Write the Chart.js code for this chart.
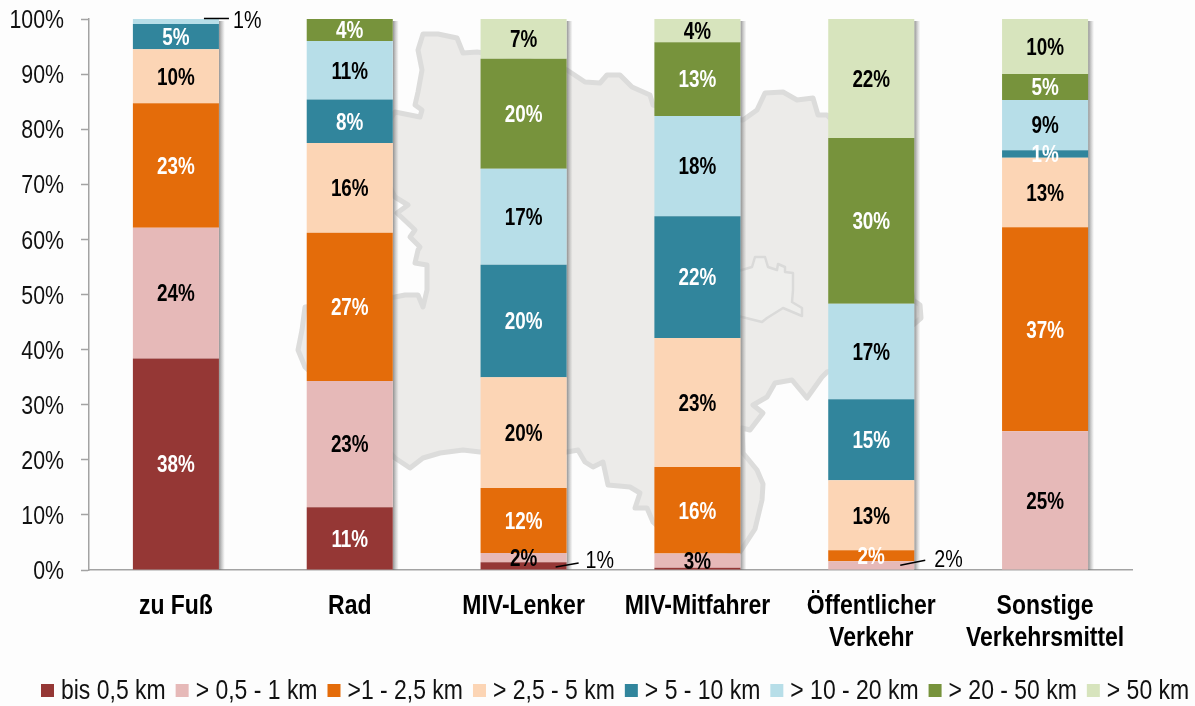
<!DOCTYPE html>
<html lang="de">
<head>
    <meta charset="UTF-8">
    <title>Wegelängen nach Verkehrsmittel</title>
    <script src="https://cdn.jsdelivr.net/npm/chart.js"></script>
    <style>
        html, body { margin: 0; padding: 0; background: #fdfdfd; }
        canvas { display: block; }
    </style>
</head>
<body>
    <canvas id="wegeChart" width="1195" height="706"></canvas>

    <script>
        // Kategorien und Werte
        const categories = ['zu Fuß', 'Rad', 'MIV-Lenker', 'MIV-Mitfahrer', ['Öffentlicher', 'Verkehr'], ['Sonstige', 'Verkehrsmittel']];
        const seriesNames = ['bis 0,5 km', '> 0,5 - 1 km', '>1 - 2,5 km', '> 2,5 - 5 km', '> 5 - 10 km', '> 10 - 20 km', '> 20 - 50 km', '> 50 km'];
        const bis05 = [38.4, 11.4, 1.4, 0.4, 0, 0];
        const bis1 = [23.7, 22.9, 1.7, 2.6, 1.6, 25.2];
        const bis25 = [22.6, 26.9, 11.8, 15.7, 2, 37];
        const bis5 = [9.8, 16.3, 20.1, 23.4, 12.7, 12.6];
        const bis10 = [4.6, 7.9, 20.4, 22.1, 14.7, 1.4];
        const bis20 = [0.9, 10.6, 17.4, 18.2, 17.3, 9.1];
        const bis50 = [0, 4, 20, 13.4, 30.1, 4.7];
        const ueber50 = [0, 0, 7.2, 4.2, 21.6, 10];
        const seriesValues = [bis05, bis1, bis25, bis5, bis10, bis20, bis50, ueber50];

        const seriesColors = ['#953735', '#e6b9b8', '#e46c0a', '#fcd5b5', '#31859c', '#b7dee8', '#77933c', '#d7e4bd'];
        const labelColors = ['#fff', '#000', '#fff', '#000', '#fff', '#000', '#fff', '#000'];

        // Beschriftungen mit Führungslinie, Versatz relativ zur rechten Balkenkante
        const callouts = [
            { series: 5, cat: 0, x0: -15, y0: -3, x1: 10, y1: -3, tx: 14, ty: -2 },
            { series: 0, cat: 2, x0: -11, y0: 1, x1: 12, y1: -3, tx: 19, ty: -7 },
            { series: 1, cat: 4, x0: -14, y0: 0, x1: 11, y1: -5, tx: 20, ty: -7 }
        ];

        // Umriss im Hintergrund (nur Dekoration, Pixel der Seite)
        const mapOutline = [[423,34],[438,34],[457,38],[463,53],[477,52],[520,58],[567,70],[585,82],[600,83],[607,75],[620,75],[632,87],[650,95],[653,105],[700,118],[743,120],[757,110],[765,93],[783,92],[797,100],[813,98],[818,115],[827,115],[870,160],[905,250],[913,300],[920,305],[921,318],[913,325],[870,360],[827,372],[822,377],[807,398],[792,380],[775,383],[767,397],[753,405],[763,413],[750,430],[742,428],[743,453],[757,470],[763,484],[762,500],[755,529],[740,552],[700,565],[653,522],[647,508],[635,508],[640,493],[630,487],[608,485],[603,462],[593,467],[585,462],[578,450],[567,452],[480,452],[463,450],[440,453],[423,458],[410,468],[395,458],[340,400],[305,367],[298,350],[302,330],[305,307],[395,297],[405,295],[418,295],[423,307],[427,290],[427,265],[415,263],[418,250],[420,247],[410,237],[415,230],[397,213],[408,205],[395,197],[370,150],[395,112],[420,117],[422,110],[415,105],[418,92],[422,70],[418,50]];
        const wienOutline = [[735,272],[752,267],[755,257],[765,257],[768,267],[777,270],[778,264],[785,267],[785,272],[793,273],[793,290],[792,302],[802,308],[802,316],[783,308],[767,318],[762,322],[742,317],[735,315]];

        const sans = "'Liberation Sans', Arial, sans-serif";
        const squeeze = 0.82; // keine Narrow-Schrift installiert, also Text horizontal stauchen
        const textDrop = 2; // Text sitzt im Original etwas tiefer

        function tracePath(ctx, points) {
            ctx.beginPath();
            points.forEach((p, i) => i ? ctx.lineTo(p[0], p[1]) : ctx.moveTo(p[0], p[1]));
            ctx.closePath();
        }

        const narrowText = {
            id: 'narrowText',
            beforeInit(chart) {
                const ctx = chart.ctx;
                const fillText = ctx.fillText;
                ctx.fillText = function (text, x, y) {
                    this.save();
                    this.translate(x, y + textDrop);
                    this.scale(squeeze, 1);
                    fillText.call(this, text, 0, 0);
                    this.restore();
                };
            }
        };

        const backgroundMap = {
            id: 'backgroundMap',
            beforeDraw(chart) {
                const ctx = chart.ctx;
                ctx.save();
                ctx.lineJoin = 'round';
                tracePath(ctx, mapOutline);
                ctx.fillStyle = '#ecebe9';
                ctx.fill();
                ctx.strokeStyle = '#dcdcdb';
                ctx.lineWidth = 5;
                ctx.stroke();
                tracePath(ctx, wienOutline);
                ctx.fillStyle = '#eeeeec';
                ctx.fill();
                ctx.strokeStyle = '#dadad9';
                ctx.lineWidth = 2.5;
                ctx.stroke();
                ctx.restore();
            }
        };

        // Schatten rechts neben jedem Balken
        const barShadow = {
            id: 'barShadow',
            beforeDatasetsDraw(chart) {
                const ctx = chart.ctx;
                const top = chart.scales.y.getPixelForValue(100);
                const bottom = chart.scales.y.getPixelForValue(0);
                chart.getDatasetMeta(0).data.forEach(bar => {
                    const right = bar.x + bar.width / 2;
                    const grad = ctx.createLinearGradient(right, 0, right + 6, 0);
                    grad.addColorStop(0, 'rgba(110,110,110,0.75)');
                    grad.addColorStop(1, 'rgba(150,150,150,0)');
                    ctx.fillStyle = grad;
                    ctx.fillRect(right, top + 2, 6, bottom - top - 2);
                });
            }
        };

        const segmentLabels = {
            id: 'segmentLabels',
            afterDatasetsDraw(chart) {
                const ctx = chart.ctx;
                ctx.save();
                ctx.textBaseline = 'middle';
                ctx.textAlign = 'center';
                ctx.font = 'bold 23px ' + sans;
                seriesValues.forEach((values, s) => {
                    const bars = chart.getDatasetMeta(s).data;
                    values.forEach((v, c) => {
                        const text = Math.round(v);
                        if (!text || callouts.some(o => o.series === s && o.cat === c)) return;
                        ctx.fillStyle = labelColors[s];
                        ctx.fillText(text + '%', bars[c].x, (bars[c].y + bars[c].base) / 2);
                    });
                });

                ctx.textAlign = 'left';
                ctx.font = '24px ' + sans;
                ctx.fillStyle = '#000';
                ctx.strokeStyle = '#000';
                ctx.lineWidth = 1.5;
                callouts.forEach(o => {
                    const bar = chart.getDatasetMeta(o.series).data[o.cat];
                    const right = bar.x + bar.width / 2;
                    const mid = (bar.y + bar.base) / 2;
                    ctx.beginPath();
                    ctx.moveTo(right + o.x0, mid + o.y0);
                    ctx.lineTo(right + o.x1, mid + o.y1);
                    ctx.stroke();
                    ctx.fillText(Math.round(seriesValues[o.series][o.cat]) + '%', right + o.tx, mid + o.ty);
                });
                ctx.restore();
            }
        };

        // Legende selbst gezeichnet, der Abstand Box-Text ist im Original enger als beim Chart.js-Standard
        const bottomLegend = {
            id: 'bottomLegend',
            afterDraw(chart) {
                const ctx = chart.ctx;
                let x = 41;
                ctx.save();
                ctx.font = '28px ' + sans;
                ctx.textBaseline = 'middle';
                ctx.textAlign = 'left';
                seriesNames.forEach((name, i) => {
                    ctx.fillStyle = seriesColors[i];
                    ctx.fillRect(x, 684, 13, 13);
                    ctx.fillStyle = '#111';
                    ctx.fillText(name, x + 20, 689);
                    x += 20 + ctx.measureText(name).width * squeeze + 10;
                });
                ctx.restore();
            }
        };

        new Chart(document.getElementById('wegeChart').getContext('2d'), {
            type: 'bar',
            data: {
                labels: categories,
                datasets: seriesNames.map((name, i) => ({
                    label: name,
                    data: seriesValues[i],
                    backgroundColor: seriesColors[i],
                    borderWidth: 0,
                    categoryPercentage: 1,
                    barPercentage: 0.495
                }))
            },
            options: {
                responsive: false,
                animation: false,
                layout: { padding: { top: 19, right: 63, bottom: 0, left: 0 } },
                plugins: { legend: { display: false }, tooltip: { enabled: false } },
                scales: {
                    x: {
                        stacked: true,
                        afterFit(scale) {
                            scale.height = 136;
                            scale.paddingLeft = 0;
                            scale.paddingRight = 0;
                        },
                        border: { color: '#a3a3a3', width: 1.5 },
                        grid: { drawOnChartArea: false, drawTicks: false },
                        ticks: {
                            autoSkip: false,
                            maxRotation: 0,
                            padding: 18,
                            color: '#000',
                            font: { family: sans, size: 28, weight: 'bold', lineHeight: 1.14 }
                        }
                    },
                    y: {
                        stacked: true,
                        min: 0,
                        max: 100,
                        afterFit(scale) {
                            scale.width = 89;
                            scale.paddingTop = 0;
                            scale.paddingBottom = 0;
                        },
                        border: { color: '#a3a3a3', width: 1.5 },
                        grid: { drawOnChartArea: false, tickLength: 8, tickColor: '#a3a3a3', tickWidth: 1.5 },
                        ticks: {
                            stepSize: 10,
                            padding: 17,
                            color: '#111',
                            font: { family: sans, size: 26 },
                            callback: v => v + '%'
                        }
                    }
                }
            },
            plugins: [narrowText, backgroundMap, barShadow, segmentLabels, bottomLegend]
        });
    </script>
</body>
</html>
